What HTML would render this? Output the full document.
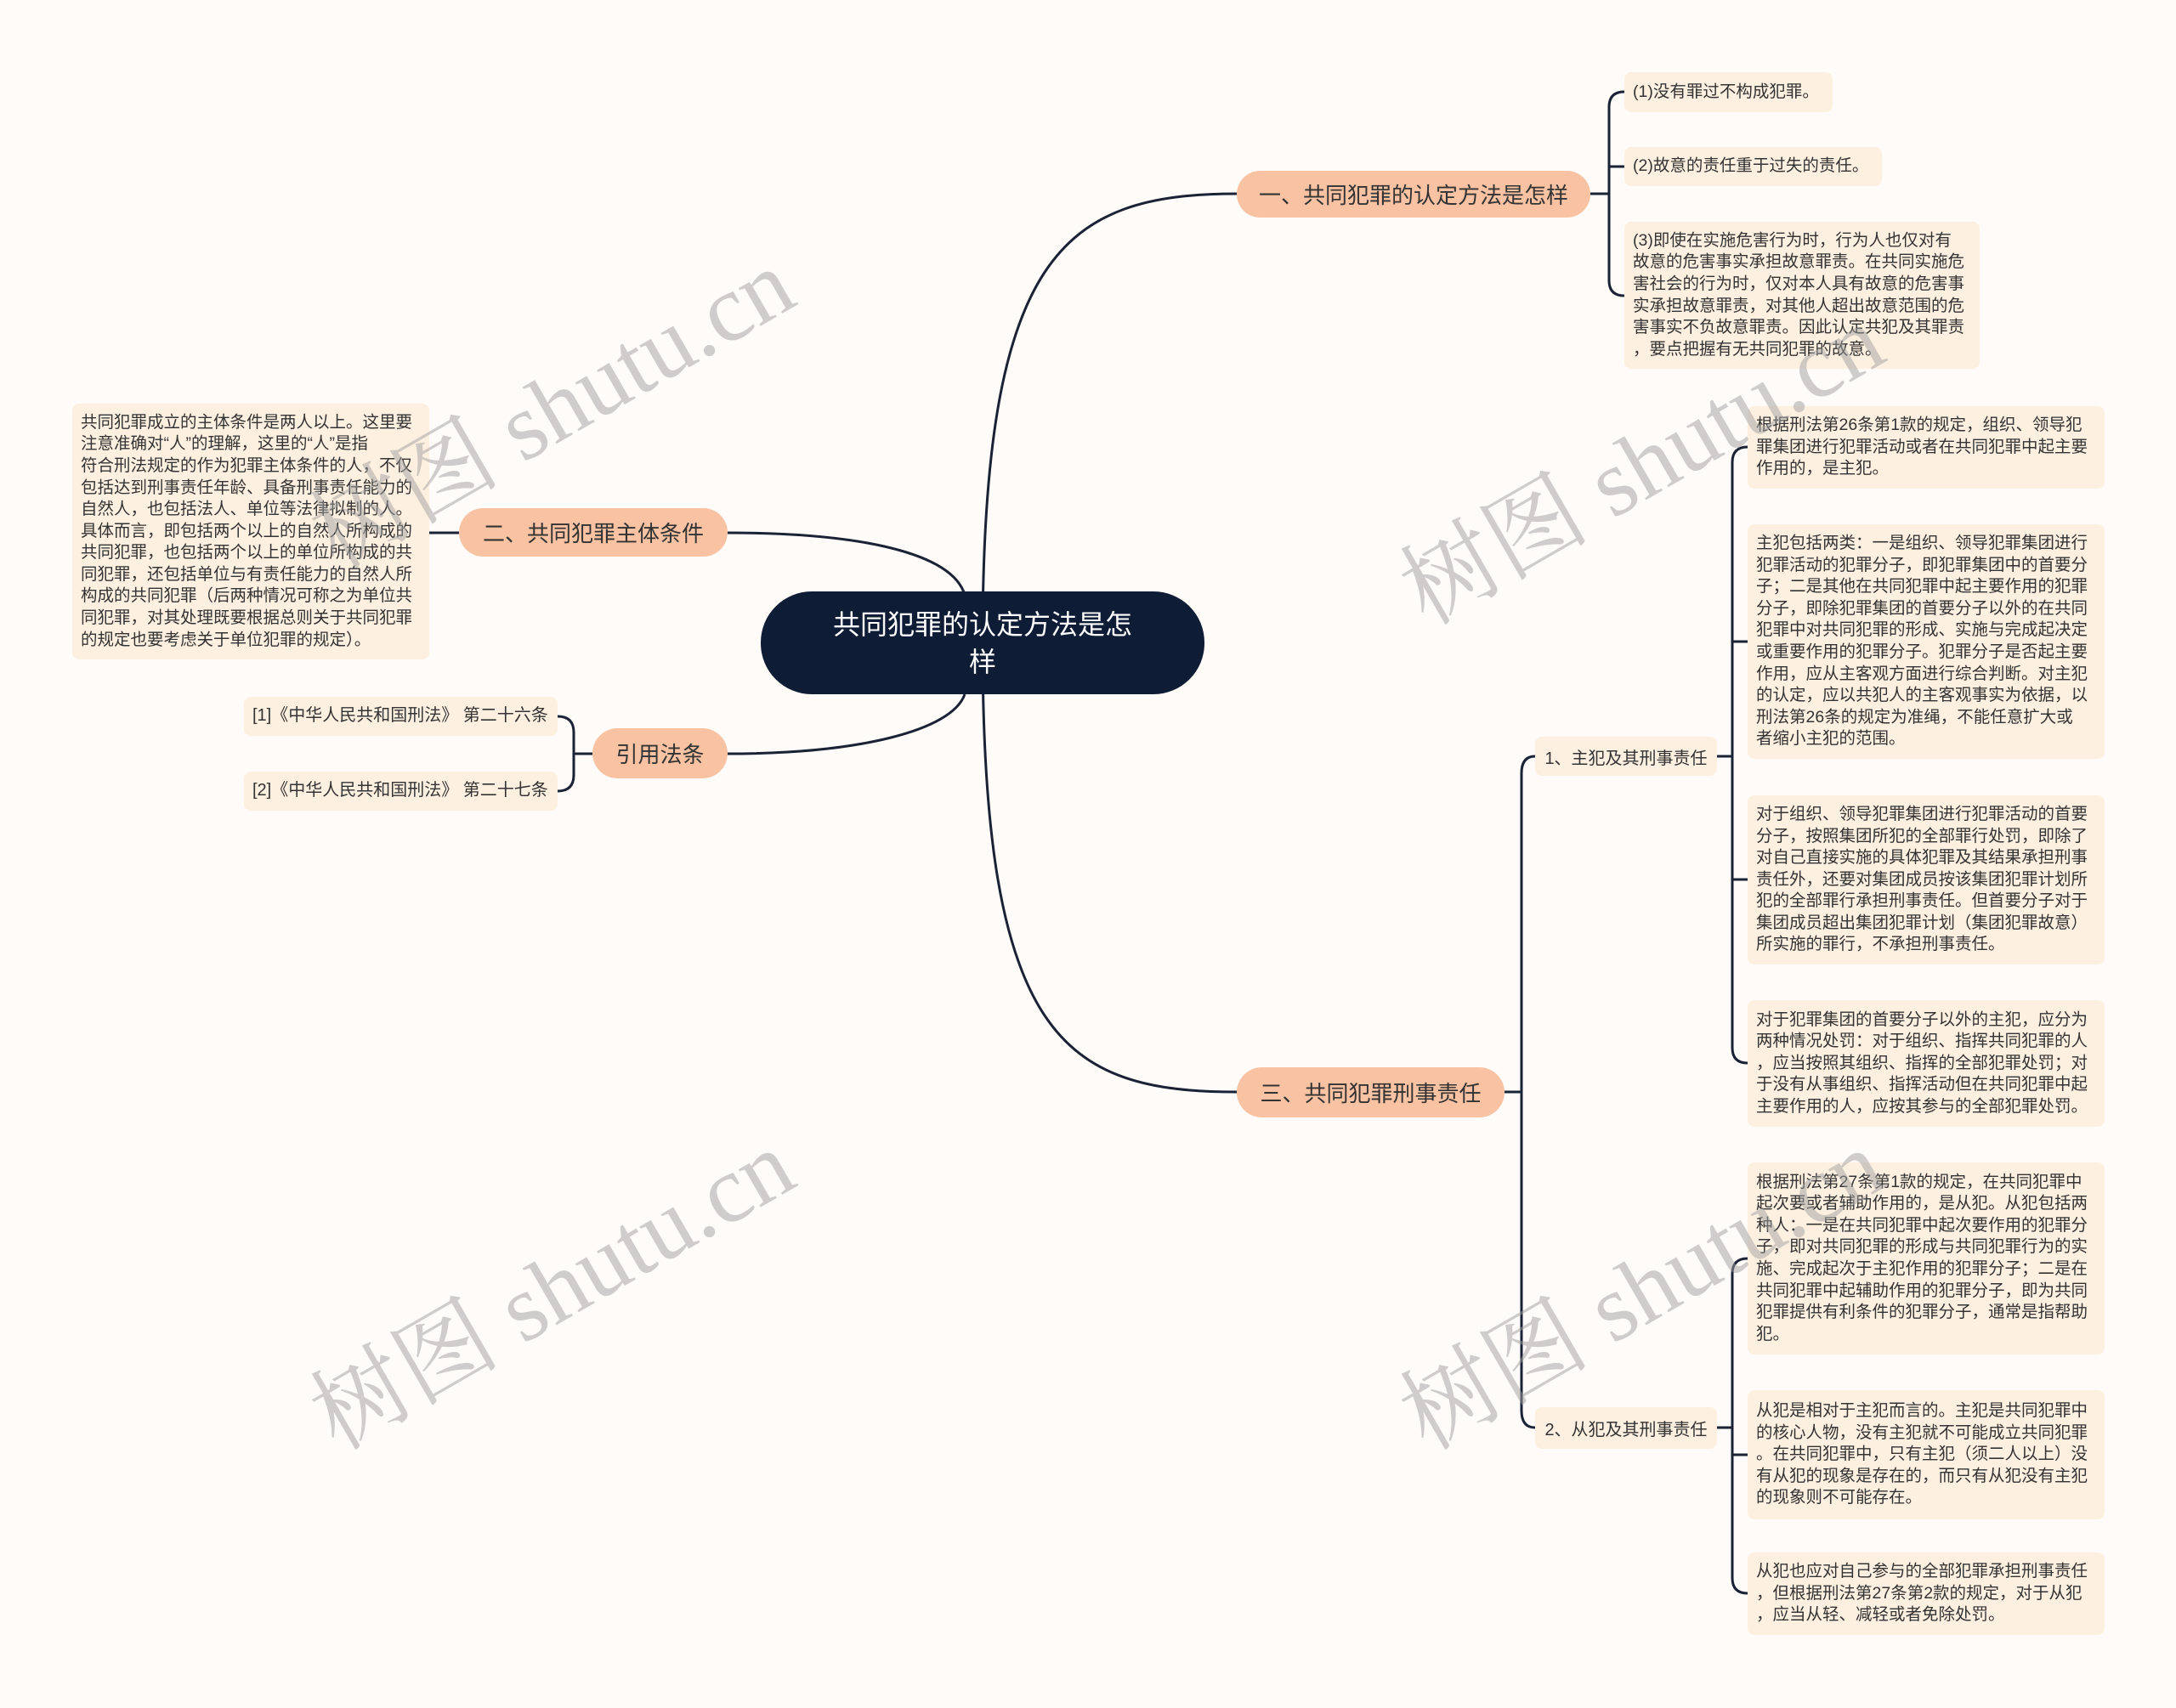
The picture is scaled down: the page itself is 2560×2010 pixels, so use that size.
<!DOCTYPE html>
<html><head><meta charset="utf-8">
<style>
html,body{margin:0;padding:0}
body{width:2560px;height:2010px;position:relative;overflow:hidden;background:#fffbf8;font-family:"Liberation Sans","Noto Sans CJK SC",sans-serif;color:#333}
.n{position:absolute;box-sizing:border-box;display:flex;align-items:center;white-space:nowrap}
.leaf{background:#fdf0e0;border-radius:8px;font-size:19.5px;line-height:25.6px;padding:0 10px;justify-content:flex-start}
.main{background:#f9c3a3;border-radius:30px;font-size:26px;justify-content:center}
.sub{background:#fdf0e0;border-radius:8px;font-size:20px;justify-content:center}
.wm{position:absolute;font-family:"Liberation Serif","Noto Serif CJK SC",serif;font-size:112px;color:rgba(160,160,160,0.5);white-space:nowrap;transform:translate(-50%,-50%) rotate(-30deg)}
</style></head><body>
<svg width="2560" height="2010" style="position:absolute;left:0;top:0" fill="none" stroke="#1a2236" stroke-width="3">
<path d="M1156,756 C1156,300 1250,228 1455,228"/>
<path d="M1156,756 C1156,1220 1250,1285 1455,1285"/>
<path d="M856,627 C1010,627 1120,650 1135,700"/>
<path d="M856,887 C1010,887 1120,860 1135,817"/>
<path d="M1871,228 H1893"/>
<path d="M1911,108 Q1893,108 1893,126 V330 Q1893,348 1911,348"/>
<path d="M1893,196 H1911"/>
<path d="M540,627 H505"/>
<path d="M697,887 H675"/>
<path d="M656,843 Q675,843 675,862 V912 Q675,931 656,931"/>
<path d="M1770,1285 H1790"/>
<path d="M1806,890 Q1790,890 1790,910 V1660 Q1790,1680 1806,1680"/>
<path d="M2020,890 H2038"/>
<path d="M2056,526 Q2038,526 2038,544 V1233 Q2038,1251 2056,1251"/>
<path d="M2038,755 H2056"/><path d="M2038,1035 H2056"/>
<path d="M2020,1680 H2038"/>
<path d="M2056,1481 Q2038,1481 2038,1499 V1857 Q2038,1875 2056,1875"/>
<path d="M2038,1712 H2056"/>
</svg>

<div class="n" style="left:895px;top:696px;width:522px;height:121px;background:#0e1d35;border-radius:60px;color:#fff;font-size:32px;line-height:44px;justify-content:center;text-align:center;white-space:normal;padding:0 70px">共同犯罪的认定方法是怎样</div>

<div class="n main" style="left:1455px;top:201px;width:416px;height:55px">一、共同犯罪的认定方法是怎样</div>
<div class="n leaf" style="left:1911px;top:85px;width:245px;height:47px">(1)没有罪过不构成犯罪。</div>
<div class="n leaf" style="left:1911px;top:173px;width:303px;height:46px">(2)故意的责任重于过失的责任。</div>
<div class="n leaf" style="left:1911px;top:261px;width:418px;height:173px">(3)即使在实施危害行为时，行为人也仅对有<br>故意的危害事实承担故意罪责。在共同实施危<br>害社会的行为时，仅对本人具有故意的危害事<br>实承担故意罪责，对其他人超出故意范围的危<br>害事实不负故意罪责。因此认定共犯及其罪责<br>，要点把握有无共同犯罪的故意。</div>

<div class="n main" style="left:540px;top:598px;width:316px;height:57px">二、共同犯罪主体条件</div>
<div class="n leaf" style="left:85px;top:475px;width:420px;height:301px">共同犯罪成立的主体条件是两人以上。这里要<br>注意准确对“人”的理解，这里的“人”是指<br>符合刑法规定的作为犯罪主体条件的人，不仅<br>包括达到刑事责任年龄、具备刑事责任能力的<br>自然人，也包括法人、单位等法律拟制的人。<br>具体而言，即包括两个以上的自然人所构成的<br>共同犯罪，也包括两个以上的单位所构成的共<br>同犯罪，还包括单位与有责任能力的自然人所<br>构成的共同犯罪（后两种情况可称之为单位共<br>同犯罪，对其处理既要根据总则关于共同犯罪<br>的规定也要考虑关于单位犯罪的规定）。</div>

<div class="n main" style="left:697px;top:857px;width:159px;height:59px">引用法条</div>
<div class="n leaf" style="left:287px;top:820px;width:369px;height:46px;font-size:20px">[1]《中华人民共和国刑法》 第二十六条</div>
<div class="n leaf" style="left:287px;top:908px;width:369px;height:46px;font-size:20px">[2]《中华人民共和国刑法》 第二十七条</div>

<div class="n main" style="left:1455px;top:1256px;width:315px;height:59px">三、共同犯罪刑事责任</div>
<div class="n sub" style="left:1806px;top:867px;width:214px;height:46px">1、主犯及其刑事责任</div>
<div class="n sub" style="left:1806px;top:1656px;width:214px;height:49px">2、从犯及其刑事责任</div>

<div class="n leaf" style="left:2056px;top:478px;width:420px;height:97px">根据刑法第26条第1款的规定，组织、领导犯<br>罪集团进行犯罪活动或者在共同犯罪中起主要<br>作用的，是主犯。</div>
<div class="n leaf" style="left:2056px;top:617px;width:420px;height:276px">主犯包括两类：一是组织、领导犯罪集团进行<br>犯罪活动的犯罪分子，即犯罪集团中的首要分<br>子；二是其他在共同犯罪中起主要作用的犯罪<br>分子，即除犯罪集团的首要分子以外的在共同<br>犯罪中对共同犯罪的形成、实施与完成起决定<br>或重要作用的犯罪分子。犯罪分子是否起主要<br>作用，应从主客观方面进行综合判断。对主犯<br>的认定，应以共犯人的主客观事实为依据，以<br>刑法第26条的规定为准绳，不能任意扩大或<br>者缩小主犯的范围。</div>
<div class="n leaf" style="left:2056px;top:936px;width:420px;height:199px">对于组织、领导犯罪集团进行犯罪活动的首要<br>分子，按照集团所犯的全部罪行处罚，即除了<br>对自己直接实施的具体犯罪及其结果承担刑事<br>责任外，还要对集团成员按该集团犯罪计划所<br>犯的全部罪行承担刑事责任。但首要分子对于<br>集团成员超出集团犯罪计划（集团犯罪故意）<br>所实施的罪行，不承担刑事责任。</div>
<div class="n leaf" style="left:2056px;top:1177px;width:420px;height:149px">对于犯罪集团的首要分子以外的主犯，应分为<br>两种情况处罚：对于组织、指挥共同犯罪的人<br>，应当按照其组织、指挥的全部犯罪处罚；对<br>于没有从事组织、指挥活动但在共同犯罪中起<br>主要作用的人，应按其参与的全部犯罪处罚。</div>
<div class="n leaf" style="left:2056px;top:1368px;width:420px;height:226px">根据刑法第27条第1款的规定，在共同犯罪中<br>起次要或者辅助作用的，是从犯。从犯包括两<br>种人：一是在共同犯罪中起次要作用的犯罪分<br>子，即对共同犯罪的形成与共同犯罪行为的实<br>施、完成起次于主犯作用的犯罪分子；二是在<br>共同犯罪中起辅助作用的犯罪分子，即为共同<br>犯罪提供有利条件的犯罪分子，通常是指帮助<br>犯。</div>
<div class="n leaf" style="left:2056px;top:1636px;width:420px;height:152px">从犯是相对于主犯而言的。主犯是共同犯罪中<br>的核心人物，没有主犯就不可能成立共同犯罪<br>。在共同犯罪中，只有主犯（须二人以上）没<br>有从犯的现象是存在的，而只有从犯没有主犯<br>的现象则不可能存在。</div>
<div class="n leaf" style="left:2056px;top:1827px;width:420px;height:97px">从犯也应对自己参与的全部犯罪承担刑事责任<br>，但根据刑法第27条第2款的规定，对于从犯<br>，应当从轻、减轻或者免除处罚。</div>

<div class="wm" style="left:645px;top:473px">树图 shutu.cn</div>
<div class="wm" style="left:645px;top:1510px">树图 shutu.cn</div>
<div class="wm" style="left:1927px;top:539px">树图 shutu.cn</div>
<div class="wm" style="left:1927px;top:1510px">树图 shutu.cn</div>
</body></html>
